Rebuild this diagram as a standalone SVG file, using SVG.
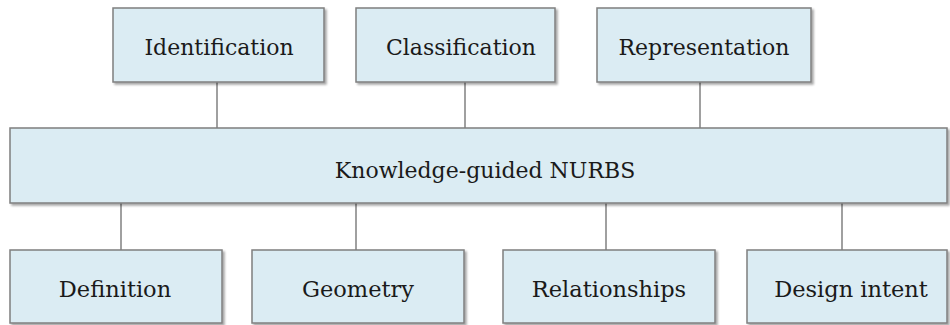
<svg xmlns="http://www.w3.org/2000/svg" width="950" height="325" viewBox="0 0 950 325">
  <defs>
    <filter id="shadow" x="-5%" y="-10%" width="115%" height="130%">
      <feDropShadow dx="2" dy="2" stdDeviation="1.2" flood-color="#000" flood-opacity="0.35"/>
    </filter>
  </defs>
  <style>
    .box { fill: #dbecf3; stroke: #7f7f7f; stroke-width: 1.5; filter: url(#shadow); }
    .lbl { font-family: "DejaVu Serif", "Liberation Serif", serif; font-size: 22px; fill: #1a1a1a; text-anchor: middle; }
    .lbl.low { font-size: 22.5px; }
    .link { stroke: #808080; stroke-width: 1.5; fill: none; }
  </style>
  <rect width="950" height="325" fill="#ffffff"/>

  <!-- connectors -->
  <g id="connectors">
    <line class="link" x1="217" y1="82" x2="217" y2="128"/>
    <line class="link" x1="465" y1="82" x2="465" y2="128"/>
    <line class="link" x1="700" y1="82" x2="700" y2="128"/>
    <line class="link" x1="121" y1="203" x2="121" y2="250"/>
    <line class="link" x1="356" y1="203" x2="356" y2="250"/>
    <line class="link" x1="606" y1="203" x2="606" y2="250"/>
    <line class="link" x1="842" y1="203" x2="842" y2="250"/>
  </g>

  <!-- top row -->
  <g id="identification">
    <rect class="box" x="113" y="8" width="211" height="74"/>
    <text class="lbl" x="219" y="55">Identification</text>
  </g>
  <g id="classification">
    <rect class="box" x="356" y="8" width="199" height="74"/>
    <text class="lbl" x="461" y="55">Classification</text>
  </g>
  <g id="representation">
    <rect class="box" x="597" y="8" width="214" height="74"/>
    <text class="lbl" x="704" y="55">Representation</text>
  </g>

  <!-- central bar -->
  <g id="knowledge-guided-nurbs">
    <rect class="box" x="10" y="128" width="937" height="75"/>
    <text class="lbl" x="485" y="178">Knowledge-guided NURBS</text>
  </g>

  <!-- bottom row -->
  <g id="definition">
    <rect class="box" x="10" y="250" width="212" height="73"/>
    <text class="lbl low" x="115" y="297">Definition</text>
  </g>
  <g id="geometry">
    <rect class="box" x="252" y="250" width="212" height="73"/>
    <text class="lbl low" x="358" y="297">Geometry</text>
  </g>
  <g id="relationships">
    <rect class="box" x="503" y="250" width="212" height="73"/>
    <text class="lbl low" x="609" y="297">Relationships</text>
  </g>
  <g id="design-intent">
    <rect class="box" x="747" y="250" width="200" height="73"/>
    <text class="lbl low" x="851" y="297">Design intent</text>
  </g>
</svg>
